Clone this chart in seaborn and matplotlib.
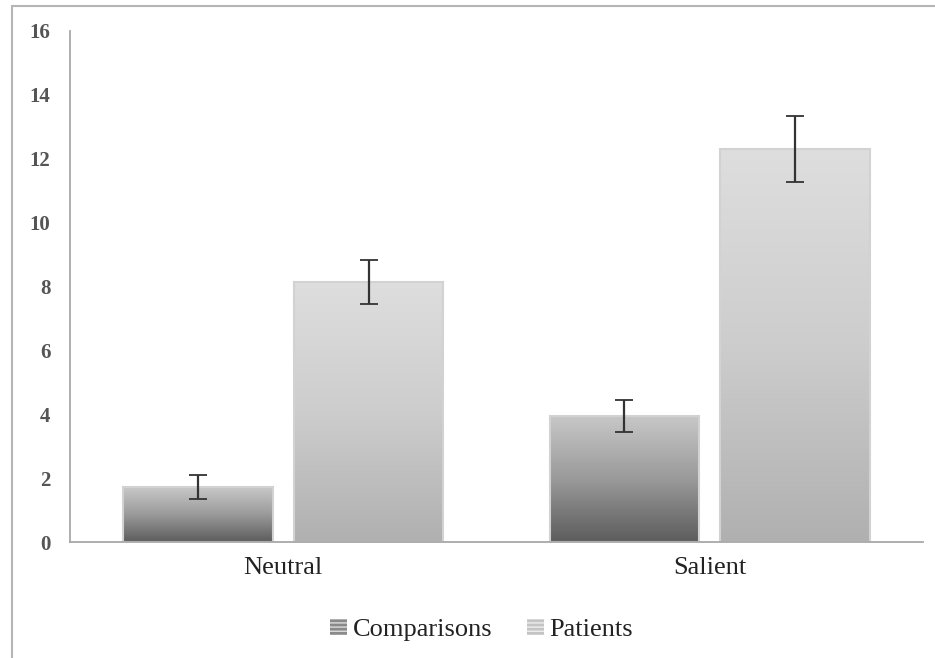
import numpy as np
import pandas as pd
import matplotlib
matplotlib.use("Agg")
import matplotlib.pyplot as plt
import seaborn as sns
from matplotlib.colors import LinearSegmentedColormap
from matplotlib.patches import Patch
from matplotlib.lines import Line2D

# Data
conditions = ["Neutral", "Salient"]
groups = ["Comparisons", "Patients"]
comparisons_mean = [1.72, 3.95]
patients_mean = [8.15, 12.3]
comparisons_err = [0.37, 0.50]
patients_err = [0.69, 1.03]
y_ticks = [0, 2, 4, 6, 8, 10, 12, 14, 16]

df = pd.DataFrame({
    "condition": conditions * 2,
    "group": [groups[0]] * 2 + [groups[1]] * 2,
    "score": comparisons_mean + patients_mean,
    "err": comparisons_err + patients_err,
})

sns.set_theme(style="white")
plt.rcParams["font.family"] = ["Liberation Serif", "DejaVu Serif"]

W, H = 935, 658
fig = plt.figure(figsize=(W / 100, H / 100), dpi=100)
ax = fig.add_axes([70 / W, 1 - 542 / H, (923 - 70) / W, (542 - 31) / H])

sns.barplot(data=df, x="condition", y="score", hue="group",
            order=conditions, hue_order=groups,
            palette=["#8a8a8a", "#c8c8c8"], width=0.8, gap=0.125,
            errorbar=None, legend=False, ax=ax)

# gradient fills, dark at bottom like the original
cmaps = [
    LinearSegmentedColormap.from_list("comp", ["#5c5c5c", "#9a9a9a", "#c8c8c8"]),
    LinearSegmentedColormap.from_list("pat", ["#b0b0b0", "#cdcdcd", "#dedede"]),
]
grad = np.linspace(0, 1, 256).reshape(-1, 1)
for cont, cmap in zip(ax.containers, cmaps):
    for bar in cont:
        x0, y0 = bar.get_x(), bar.get_y()
        w, h = bar.get_width(), bar.get_height()
        im = ax.imshow(grad, extent=[x0, x0 + w, y0, y0 + h], origin="lower",
                       aspect="auto", cmap=cmap, zorder=bar.get_zorder())
        im.set_clip_path(bar)
        bar.set_facecolor("none")
        bar.set_edgecolor("#d2d2d2")
        bar.set_linewidth(1.5)
        bar.set_zorder(bar.get_zorder() + 0.1)

# error bars at bar centres
errs = [comparisons_err, patients_err]
means = [comparisons_mean, patients_mean]
for cont, m, e in zip(ax.containers, means, errs):
    xs = [b.get_x() + b.get_width() / 2 for b in cont]
    ax.errorbar(xs, m, yerr=e, fmt="none", ecolor="#333333",
                elinewidth=1.6, capsize=6.5, capthick=1.3, zorder=5)

ax.set_xlim(-0.5, 1.5)
ax.set_ylim(0, 16)
ax.set_yticks(y_ticks)
ax.set_xlabel("")
ax.set_ylabel("")

for side in ["top", "right"]:
    ax.spines[side].set_visible(False)
for side in ["left", "bottom"]:
    ax.spines[side].set_color("#a8a8a8")
    ax.spines[side].set_linewidth(1.3)

ax.tick_params(axis="both", length=0)
ax.tick_params(axis="y", pad=14, labelsize=15, labelcolor="#555555")
ax.tick_params(axis="x", pad=11, labelsize=19, labelcolor="#222222")
for lbl in ax.get_yticklabels():
    lbl.set_fontweight("bold")

handles = [Patch(facecolor="#8a8a8a", edgecolor="#dddddd", hatch="----", lw=0),
           Patch(facecolor="#c4c4c4", edgecolor="#eeeeee", hatch="----", lw=0)]
fig.legend(handles, groups, loc="center", bbox_to_anchor=(0.515, 1 - 630 / H),
           ncol=2, frameon=False, fontsize=19, handlelength=0.65,
           handleheight=0.55, handletextpad=0.2, columnspacing=1.3,
           labelcolor="#222222")

# outer chart-area border (only left and top edges visible in the crop)
fig.add_artist(Line2D([12 / W, 12 / W], [0, 1 - 6 / H], transform=fig.transFigure,
                      color="#b5b5b5", lw=1.5))
fig.add_artist(Line2D([12 / W, 1], [1 - 6 / H, 1 - 6 / H], transform=fig.transFigure,
                      color="#b5b5b5", lw=1.5))

fig.savefig("out.png", dpi=100)
